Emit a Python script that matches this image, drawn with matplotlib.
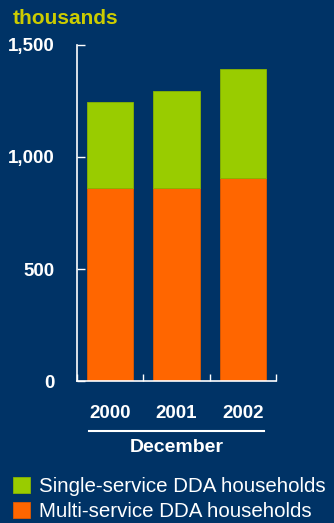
import matplotlib
matplotlib.use('Agg')
import matplotlib.pyplot as plt
from matplotlib.lines import Line2D

years = ['2000', '2001', '2002']
multi = [860, 860, 905]
single = [385, 435, 490]

bg = '#003366'
green = '#99CC00'
orange = '#FF6600'

plt.rcParams['font.family'] = 'Liberation Sans'

fig = plt.figure(figsize=(3.34, 5.23), dpi=100, facecolor=bg)
ax = fig.add_axes([77/334, 1-381/523, 199/334, 336/523])
ax.set_facecolor(bg)

x = range(len(years))
b1 = ax.bar(x, multi, width=0.7, color=orange, edgecolor='#E05A00', linewidth=0.6)
b2 = ax.bar(x, single, bottom=multi, width=0.7, color=green, edgecolor='#88B400', linewidth=0.6)

ax.set_xlim(-0.5, 2.5)
ax.set_ylim(0, 1500)
ax.set_yticks([0, 500, 1000, 1500])
ax.set_yticklabels(['0', '500', '1,000', '1,500'], color='white', fontsize=13.5, fontweight='bold')
ax.tick_params(axis='y', direction='in', length=6, width=1, color='white', pad=16)

ax.set_xticks([-0.5, 0.5, 1.5, 2.5], minor=True)
ax.set_xticks(list(x))
ax.set_xticklabels(years, color='white', fontsize=13.5, fontweight='bold')
ax.tick_params(axis='x', which='major', length=0, pad=17)
ax.tick_params(axis='x', which='minor', direction='in', length=5, width=1, color='white')

for s in ['top', 'right']:
    ax.spines[s].set_visible(False)
for s in ['left', 'bottom']:
    ax.spines[s].set_color('white')
    ax.spines[s].set_linewidth(1.2)

fig.text(13/334, 1-18/523, 'thousands', color='#CCCC00', fontsize=15, fontweight='bold', va='center', ha='left')
fig.add_artist(Line2D([89/334, 264/334], [1-431/523, 1-431/523], color='white', linewidth=1.5))
fig.text(177/334, 1-448/523, 'December', color='white', fontsize=14, fontweight='bold', va='center', ha='center')

leg = fig.legend([b2, b1], ['Single-service DDA households', 'Multi-service DDA households'],
                 loc='lower left', bbox_to_anchor=(13/334, 2/523), borderaxespad=0, borderpad=0,
                 frameon=False, fontsize=14.8, handlelength=0.85, handleheight=0.8,
                 handletextpad=0.4, labelspacing=0.3)
for t in leg.get_texts():
    t.set_color('white')

fig.savefig('out.png', dpi=100, facecolor=bg)
